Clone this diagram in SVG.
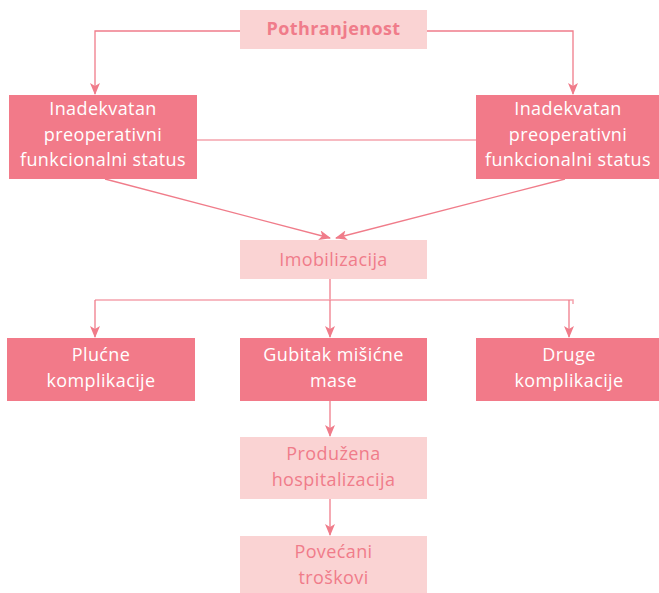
<svg xmlns="http://www.w3.org/2000/svg" width="659" height="593" viewBox="0 0 659 593">
<style>
.dark{fill:#F27A89}
.light{fill:#FAD3D3}
.tw{font-family:"Open Sans","Liberation Sans",sans-serif;font-size:18px;letter-spacing:0.4px;fill:#ffffff;text-anchor:middle}
.tp{font-family:"Open Sans","Liberation Sans",sans-serif;font-size:18px;letter-spacing:0.4px;fill:#F07C8A;text-anchor:middle}
.ln{fill:none;stroke:#F07C8A;stroke-width:1.3}
.ln2{fill:none;stroke:#F5A3AD;stroke-width:1.5}
</style>
<defs>
<marker id="ah" viewBox="0 0 12 10" refX="11" refY="5" markerWidth="12" markerHeight="10" markerUnits="userSpaceOnUse" orient="auto">
<path d="M0,0 L12,5 L0,10 L3,5 z" fill="#F07C8A"/>
</marker>
</defs>
<g id="connectors">
<polyline class="ln" points="240,31 95,31 95,94" marker-end="url(#ah)"/>
<polyline class="ln" points="427,31 573,31 573,94" marker-end="url(#ah)"/>
<line class="ln2" x1="197" y1="140" x2="476" y2="140"/>
<line class="ln" x1="105" y1="179" x2="330" y2="238" marker-end="url(#ah)"/>
<line class="ln" x1="565" y1="179" x2="336" y2="238" marker-end="url(#ah)"/>
<polyline class="ln" points="330,279 330,300"/>
<polyline class="ln2" points="95,300 573,300 573,304"/>
<line class="ln" x1="95" y1="300" x2="95" y2="337" marker-end="url(#ah)"/>
<line class="ln" x1="330" y1="300" x2="330" y2="337" marker-end="url(#ah)"/>
<line class="ln" x1="569" y1="300" x2="569" y2="337" marker-end="url(#ah)"/>
<line class="ln" x1="330" y1="401" x2="330" y2="436" marker-end="url(#ah)"/>
<line class="ln" x1="330" y1="499" x2="330" y2="535" marker-end="url(#ah)"/>
</g>
<g id="pothranjenost">
<rect class="light" x="240" y="10" width="187" height="39"/>
<text class="tp" x="333.5" y="35" font-weight="bold" letter-spacing="0">Pothranjenost</text>
</g>
<g id="inadekvatan-left">
<rect class="dark" x="9" y="95" width="188" height="84"/>
<text class="tw" x="103" y="115">Inadekvatan</text>
<text class="tw" x="103" y="140.5">preoperativni</text>
<text class="tw" x="103" y="166">funkcionalni status</text>
</g>
<g id="inadekvatan-right">
<rect class="dark" x="476" y="95" width="183" height="84"/>
<text class="tw" x="568" y="115">Inadekvatan</text>
<text class="tw" x="568" y="140.5">preoperativni</text>
<text class="tw" x="568" y="166">funkcionalni status</text>
</g>
<g id="imobilizacija">
<rect class="light" x="240" y="240" width="187" height="39"/>
<text class="tp" x="333.5" y="266">Imobilizacija</text>
</g>
<g id="plucne">
<rect class="dark" x="7" y="338" width="188" height="63"/>
<text class="tw" x="101" y="361">Plućne</text>
<text class="tw" x="101" y="387">komplikacije</text>
</g>
<g id="gubitak">
<rect class="dark" x="240" y="338" width="187" height="63"/>
<text class="tw" x="333.5" y="361">Gubitak mišićne</text>
<text class="tw" x="333.5" y="387">mase</text>
</g>
<g id="druge">
<rect class="dark" x="476" y="338" width="183" height="63"/>
<text class="tw" x="569" y="361">Druge</text>
<text class="tw" x="569" y="387">komplikacije</text>
</g>
<g id="produzena">
<rect class="light" x="240" y="437" width="187" height="62"/>
<text class="tp" x="333.5" y="460">Produžena</text>
<text class="tp" x="333.5" y="486">hospitalizacija</text>
</g>
<g id="povecani">
<rect class="light" x="240" y="536" width="187" height="57"/>
<text class="tp" x="333.5" y="558">Povećani</text>
<text class="tp" x="333.5" y="584">troškovi</text>
</g>
</svg>
